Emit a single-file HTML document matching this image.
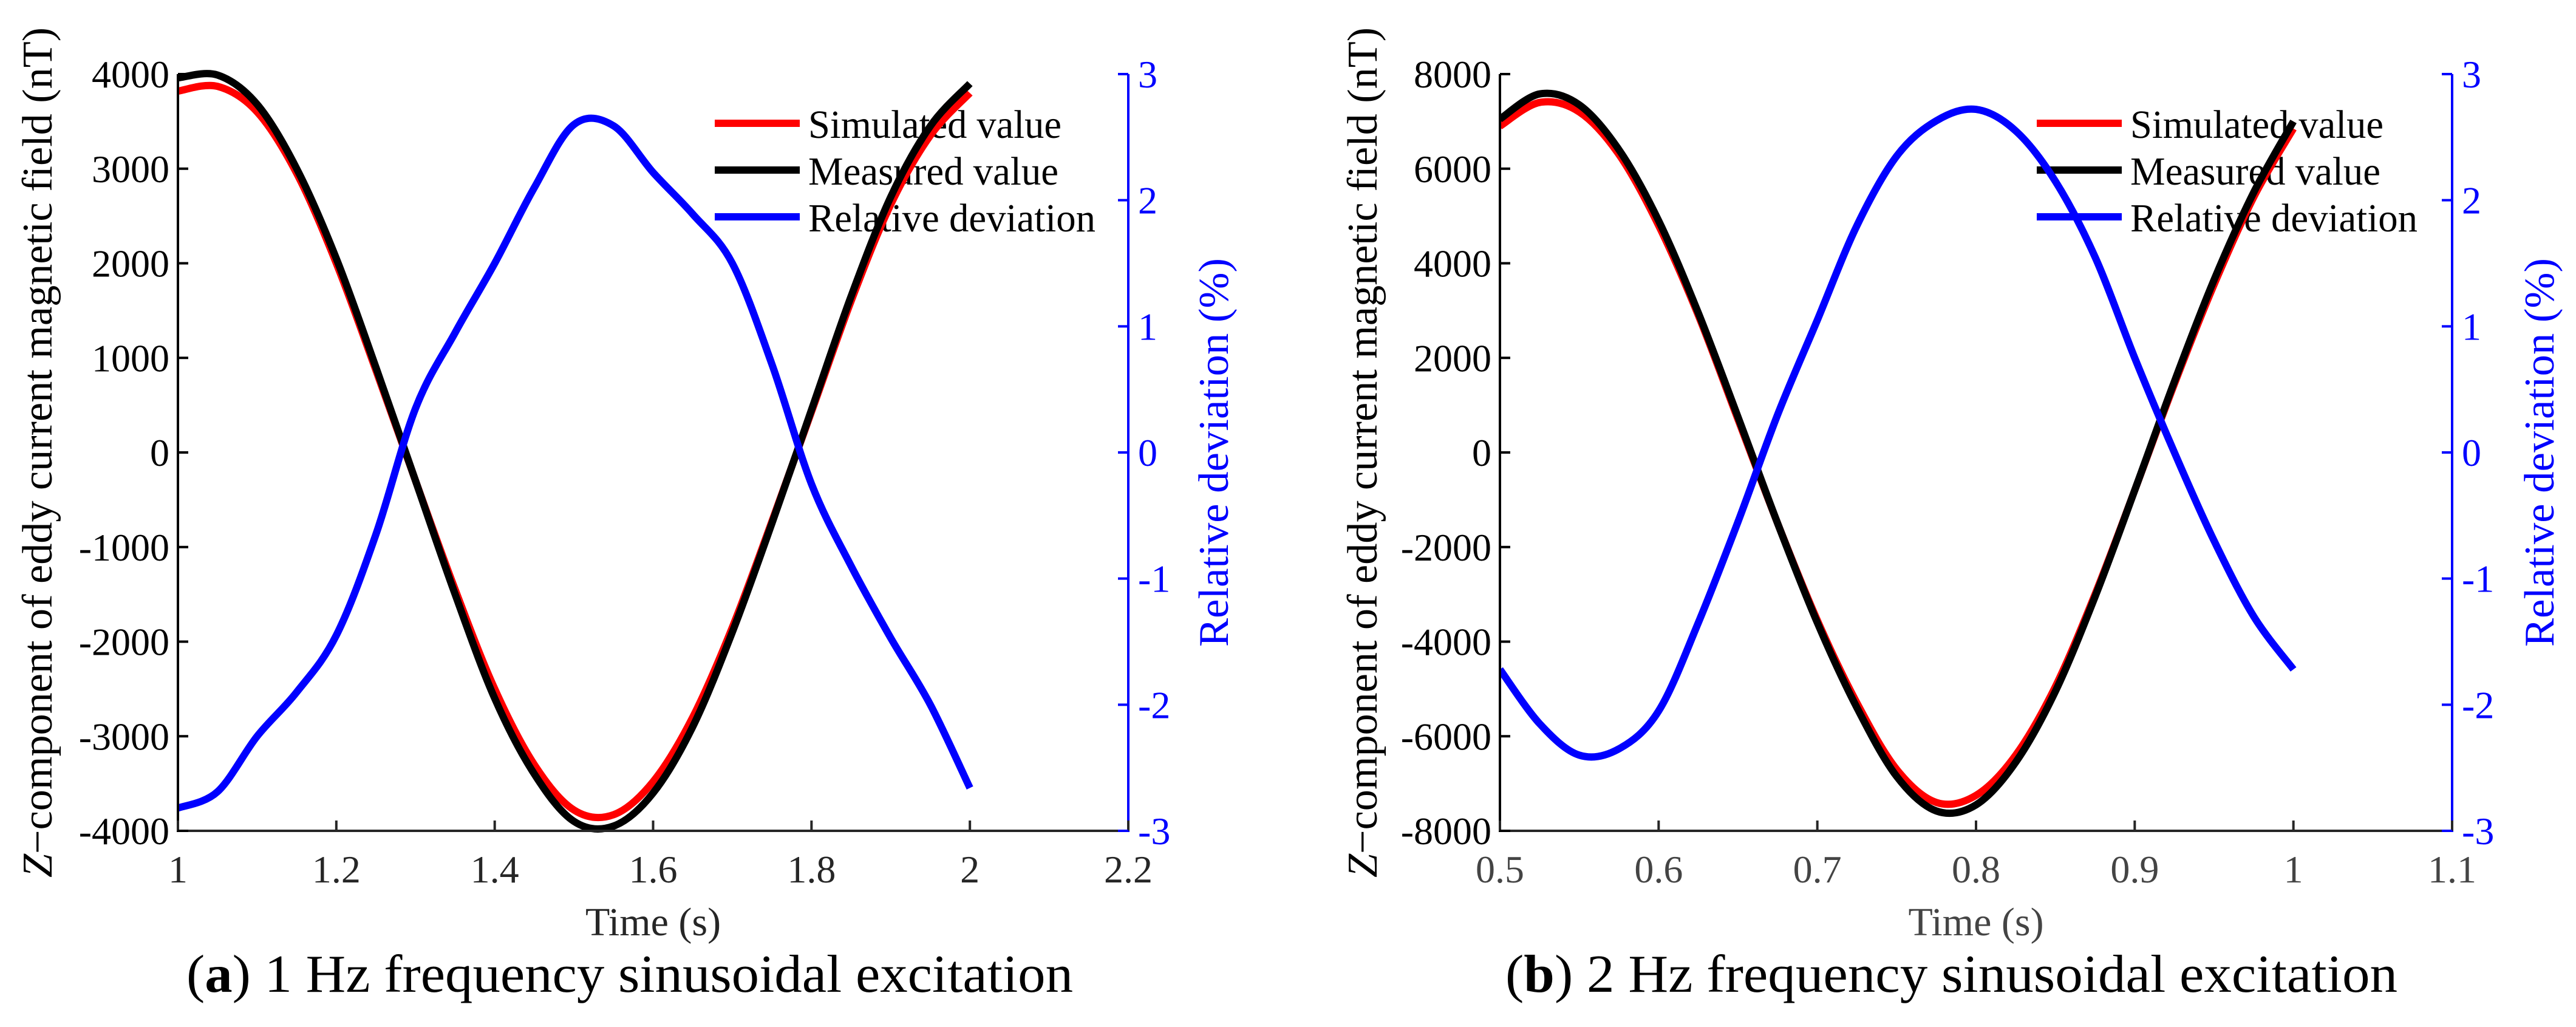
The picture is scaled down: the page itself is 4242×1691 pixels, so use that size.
<!DOCTYPE html>
<html><head><meta charset="utf-8"><style>
html,body{margin:0;padding:0;background:#fff;}
svg, svg text{font-family:"Liberation Serif","Times New Roman","DejaVu Serif",serif;}
</style></head><body>
<svg id="fig" width="4242" height="1686" viewBox="0 0 4242 1686" xmlns="http://www.w3.org/2000/svg" font-family="Liberation Serif, serif"></svg>
<script>
// ---- Panel (a) data ----
const timeA = [1.00,1.05,1.10,1.15,1.20,1.25,1.30,1.35,1.40,1.45,1.50,1.55,1.60,1.65,1.70,1.75,1.80,1.85,1.90,1.95,2.00];
const measuredA = [3960,3990,3680,3000,2050,900,-300,-1500,-2600,-3400,-3900,-3950,-3600,-2900,-1900,-750,450,1650,2700,3450,3900];
const simulatedA = [3820,3870,3600,2950,2000,870,-300,-1450,-2500,-3300,-3780,-3830,-3480,-2800,-1850,-730,430,1600,2620,3350,3800];
const deviationA = [-2.82,-2.69,-2.25,-1.9,-1.45,-0.65,0.35,0.95,1.5,2.1,2.6,2.59,2.22,1.89,1.5,0.7,-0.25,-0.9,-1.47,-2.0,-2.66];
const xTicksA = [1,1.2,1.4,1.6,1.8,2,2.2];
const xTickLabelsA = ["1","1.2","1.4","1.6","1.8","2","2.2"];
const yTicksA = [-4000,-3000,-2000,-1000,0,1000,2000,3000,4000];
// ---- Panel (b) data ----
const timeB = [0.500,0.525,0.550,0.575,0.600,0.625,0.650,0.675,0.700,0.725,0.750,0.775,0.800,0.825,0.850,0.875,0.900,0.925,0.950,0.975,1.000];
const measuredB = [7050,7580,7350,6400,4900,2950,750,-1500,-3600,-5400,-6850,-7580,-7450,-6550,-5050,-3050,-800,1500,3650,5500,7000];
const simulatedB = [6900,7400,7200,6300,4800,2900,700,-1500,-3550,-5300,-6700,-7400,-7250,-6400,-4950,-3000,-800,1450,3550,5400,6850];
const deviationB = [-1.72,-2.15,-2.4,-2.35,-2.05,-1.35,-0.55,0.3,1.05,1.8,2.35,2.63,2.72,2.55,2.15,1.55,0.75,0.0,-0.7,-1.3,-1.72];
const xTicksB = [0.5,0.6,0.7,0.8,0.9,1,1.1];
const xTickLabelsB = ["0.5","0.6","0.7","0.8","0.9","1","1.1"];
const yTicksB = [-8000,-6000,-4000,-2000,0,2000,4000,6000,8000];
const rightTicks = [-3,-2,-1,0,1,2,3];

const NS="http://www.w3.org/2000/svg";
const FONT='"Liberation Serif", "Times New Roman", serif';
const svg=document.getElementById('fig');
function mk(tag,attrs,parent){const e=document.createElementNS(NS,tag);for(const k in attrs)e.setAttribute(k,attrs[k]);if(tag==='text')e.setAttribute('font-family',FONT);(parent||svg).appendChild(e);return e;}
function smooth(pts){let d="M"+pts[0][0].toFixed(1)+","+pts[0][1].toFixed(1);
 for(let i=0;i<pts.length-1;i++){const p0=pts[Math.max(0,i-1)],p1=pts[i],p2=pts[i+1],p3=pts[Math.min(pts.length-1,i+2)];
  const c1=[p1[0]+(p2[0]-p0[0])/6,p1[1]+(p2[1]-p0[1])/6],c2=[p2[0]-(p3[0]-p1[0])/6,p2[1]-(p3[1]-p1[1])/6];
  d+=" C"+c1[0].toFixed(1)+","+c1[1].toFixed(1)+" "+c2[0].toFixed(1)+","+c2[1].toFixed(1)+" "+p2[0].toFixed(1)+","+p2[1].toFixed(1);}
 return d;}

function panel(o){
 const g=mk('g',{});
 
 
 const L=o.L,R=o.R,T=122,B=1368;
 const xs=v=>L+(v-o.xmin)/(o.xmax-o.xmin)*(R-L);
 const ys=v=>B-(v-o.ymin)/(o.ymax-o.ymin)*(B-T);
 const yr=v=>B-(v+3)/6*(B-T);
 const leg=mk('g',{},g);
 
 
 const items=[["Simulated value","#ff0000",417],["Measured value","#000000",412],["Relative deviation","#0000ff",473]];
 items.forEach((it,i)=>{
  const y=203+i*77;
  const ln=mk('line',{x1:L+884,x2:L+1024,y1:y,y2:y,stroke:it[1],'stroke-width':12},leg);
  
  
  const t=mk('text',{x:L+1038,y:y+24,'font-size':66,fill:'#000',textLength:it[2],lengthAdjust:'spacingAndGlyphs'},leg);
  t.textContent=it[0];
  
  
 });
 const cid='clip'+o.name;
 const cp=mk('clipPath',{id:cid},g);mk('rect',{x:L,y:T-10,width:R-L,height:B-T+20},cp);
 const cg=mk('g',{'clip-path':'url(#'+cid+')'},g);
 const sim=mk('path',{d:smooth(o.t.map((t,i)=>[xs(t),ys(o.sim[i])])),fill:'none',stroke:'#ff0000','stroke-width':12},cg);
 
 
 const mea=mk('path',{d:smooth(o.t.map((t,i)=>[xs(t),ys(o.mea[i])])),fill:'none',stroke:'#000','stroke-width':12},cg);
 
 
 const dev=mk('path',{d:smooth(o.t.map((t,i)=>[xs(t),yr(o.dev[i])])),fill:'none',stroke:'#0000ff','stroke-width':12},cg);
 
 
 const xa=mk('line',{x1:L,x2:R,y1:B,y2:B,stroke:'#262626','stroke-width':4},g);
 
 
 const ya=mk('line',{x1:L,x2:L,y1:T,y2:B+2,stroke:'#000','stroke-width':4},g);
 
 
 const ra=mk('line',{x1:R,x2:R,y1:T,y2:B+2,stroke:'#0000ff','stroke-width':4},g);
 
 
 o.xt.forEach((v,i)=>{const x=xs(v);
  mk('line',{x1:x,x2:x,y1:B,y2:B-17,stroke:'#262626','stroke-width':4},g);
  const t=mk('text',{x:x,y:1453,'font-size':64,fill:o.xcol,'text-anchor':'middle'},g);
  t.textContent=o.xl[i];
  
  });
 o.yt.forEach(v=>{const y=ys(v);
  mk('line',{x1:L,x2:L+17,y1:y,y2:y,stroke:'#000','stroke-width':4},g);
  const t=mk('text',{x:L-14,y:y+22,'font-size':64,fill:'#000','text-anchor':'end'},g);
  t.textContent=String(v);
  
  });
 rightTicks.forEach(v=>{const y=yr(v);
  mk('line',{x1:R,x2:R-17,y1:y,y2:y,stroke:'#0000ff','stroke-width':4},g);
  const t=mk('text',{x:R+16,y:y+22,'font-size':64,fill:'#0000ff'},g);
  t.textContent=String(v);
  
  });
 const xt=mk('text',{x:(L+R)/2,y:1540,'font-size':66,fill:o.xcol,'text-anchor':'middle'},g);
 xt.textContent="Time (s)";
 
 
 const lt=mk('text',{x:0,y:0,'font-size':70,fill:'#000','text-anchor':'middle',textLength:1400,lengthAdjust:'spacingAndGlyphs',transform:'translate('+(o.ltx+24)+',745) rotate(-90)'},g);
 lt.innerHTML='<tspan font-style="italic">Z</tspan>−component of eddy current magnetic field (nT)';
 
 
 const rt=mk('text',{x:0,y:0,'font-size':70,fill:'#0000ff','text-anchor':'middle',textLength:640,lengthAdjust:'spacingAndGlyphs',transform:'translate('+(o.rtx+24)+',745) rotate(-90)'},g);
 rt.textContent="Relative deviation (%)";
 
 
 const cap=mk('text',{x:o.capx,y:1633,'font-size':88,fill:'#000',textLength:o.capw,lengthAdjust:'spacingAndGlyphs'},g);
 cap.innerHTML='(<tspan font-weight="bold">'+o.letter+'</tspan>) '+o.caption;
 
 
}
panel({name:'panel-a',L:293,R:1858,xmin:1,xmax:2.2,ymin:-4000,ymax:4000,t:timeA,mea:measuredA,sim:simulatedA,dev:deviationA,
 xt:xTicksA,xl:xTickLabelsA,yt:yTicksA,xcol:'#262626',ltx:61,rtx:1998,capx:307,capw:1460,letter:'a',caption:'1 Hz frequency sinusoidal excitation'});
panel({name:'panel-b',L:2470,R:4038,xmin:0.5,xmax:1.1,ymin:-8000,ymax:8000,t:timeB,mea:measuredB,sim:simulatedB,dev:deviationB,
 xt:xTicksB,xl:xTickLabelsB,yt:yTicksB,xcol:'#444444',ltx:2243,rtx:4181,capx:2479,capw:1469,letter:'b',caption:'2 Hz frequency sinusoidal excitation'});
</script>
</body></html>
